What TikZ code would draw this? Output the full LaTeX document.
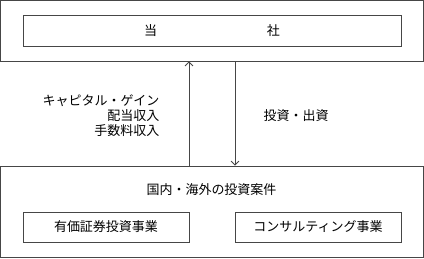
\documentclass[tikz,border=0pt]{standalone}
\usepackage{fontspec}
\newfontfamily\jpfont{Noto Sans CJK JP}
\usepackage{tikz}
\usetikzlibrary{arrows.meta, positioning}
\usepackage{xcolor}
\definecolor{lgray}{RGB}{70,70,70}

\begin{document}
\begin{tikzpicture}[x=1pt, y=-1pt, font=\jpfont\fontsize{13}{15}\selectfont,
    box/.style={draw=lgray, line width=0.8pt, inner sep=0pt, anchor=center},
    flow/.style={draw=lgray, line width=0.8pt, -{Straight Barb[length=4pt,width=8pt]}}]
  \useasboundingbox (0,0) rectangle (424,258);

  % Company (top)
  \node[box, minimum width=423pt, minimum height=61pt] (company) at (211.5,30.5) {};
  \node[box, minimum width=378pt, minimum height=31pt] (companyin) at (212,30.5) {当\hspace{110pt}社};

  % Investments (bottom)
  \node[box, minimum width=423pt, minimum height=91pt] (invest) at (211.5,211.5) {};
  \node (investtitle) at (211.5,190) {国内・海外の投資案件};
  \foreach \name/\x/\lbl in {secbiz/106/{有価証券投資事業}, consbiz/318/{コンサルティング事業}}{
    \node[box, minimum width=166pt, minimum height=30pt] (\name) at (\x,227) {\lbl};
  }

  % Flows
  \draw[flow] ([xshift=-22.5pt]invest.north) -- ([xshift=-22.5pt]company.south);
  \draw[flow] ([xshift=23.5pt]company.south) -- ([xshift=23.5pt]invest.north);
  \node[anchor=east, align=right] (income) at (163,116) {キャピタル・ゲイン\\配当収入\\手数料収入};
  \node[anchor=west] (funding) at (260,116) {投資・出資};
\end{tikzpicture}
\end{document}
